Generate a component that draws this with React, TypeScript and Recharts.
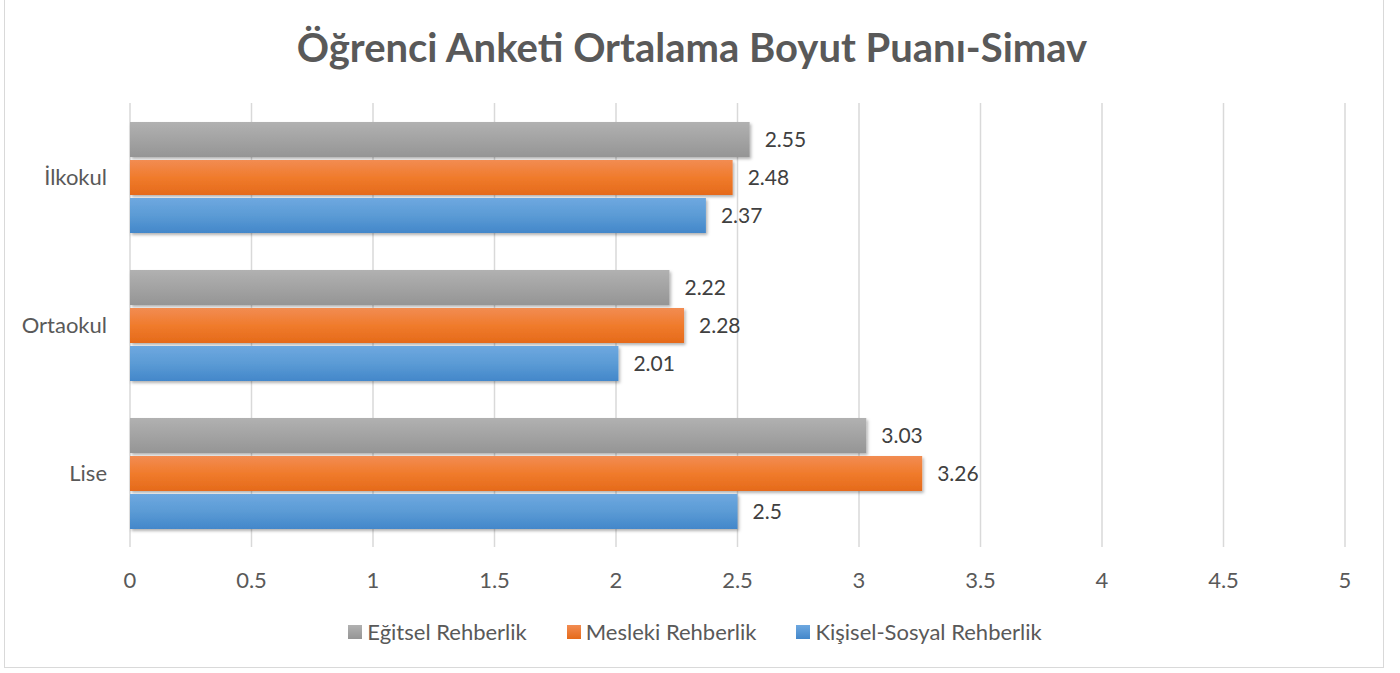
import React from "react";
import {
  Bar,
  BarChart,
  CartesianGrid,
  LabelList,
  XAxis,
  YAxis,
} from "recharts";

const categories = ["İlkokul", "Ortaokul", "Lise"];
const egitsel = [2.55, 2.22, 3.03];
const mesleki = [2.48, 2.28, 3.26];
const kisisel = [2.37, 2.01, 2.5];
const xTicks = [0, 0.5, 1, 1.5, 2, 2.5, 3, 3.5, 4, 4.5, 5];

const data = categories.map((name, i) => ({
  name,
  egitsel: egitsel[i],
  mesleki: mesleki[i],
  kisisel: kisisel[i],
}));

const series = [
  { key: "egitsel", name: "Eğitsel Rehberlik", fill: "url(#gGray)", swatch: "linear-gradient(#b1b1b1, #959595)" },
  { key: "mesleki", name: "Mesleki Rehberlik", fill: "url(#gOrange)", swatch: "linear-gradient(#f28c52, #e56a1a)" },
  { key: "kisisel", name: "Kişisel-Sosyal Rehberlik", fill: "url(#gBlue)", swatch: "linear-gradient(#6ea8e0, #4387ca)" },
];

const FONT = "Lato, 'Open Sans', sans-serif";

export default function App() {
  return (
    <div
      style={{
        position: "absolute",
        left: 0,
        top: 0,
        width: 1400,
        height: 673,
        background: "#fff",
        fontFamily: FONT,
      }}
    >
      <div
        style={{
          position: "absolute",
          left: 4,
          top: -2,
          width: 1380,
          height: 670,
          border: "1.5px solid #d9d9d9",
          boxSizing: "border-box",
        }}
      />
      <div
        style={{
          position: "absolute",
          left: 0,
          top: 22,
          width: 1384,
          textAlign: "center",
          fontSize: 40,
          lineHeight: "50px",
          fontWeight: 700,
          color: "#595959",
        }}
      >
        Öğrenci Anketi Ortalama Boyut Puanı-Simav
      </div>
      <BarChart
        width={1400}
        height={673}
        data={data}
        layout="vertical"
        barSize={35}
        barGap={3}
        margin={{ top: 103, right: 55, left: 0, bottom: 81 }}
        style={{ position: "absolute", left: 0, top: 0 }}
      >
        <defs>
          <linearGradient id="gGray" x1="0" y1="0" x2="0" y2="1">
            <stop offset="0%" stopColor="#b1b1b1" />
            <stop offset="100%" stopColor="#959595" />
          </linearGradient>
          <linearGradient id="gOrange" x1="0" y1="0" x2="0" y2="1">
            <stop offset="0%" stopColor="#f28c52" />
            <stop offset="50%" stopColor="#f07b2c" />
            <stop offset="100%" stopColor="#e56a1a" />
          </linearGradient>
          <linearGradient id="gBlue" x1="0" y1="0" x2="0" y2="1">
            <stop offset="0%" stopColor="#6ea8e0" />
            <stop offset="50%" stopColor="#5b9bd5" />
            <stop offset="100%" stopColor="#4387ca" />
          </linearGradient>
          <filter id="shadow" x="-5%" y="-20%" width="110%" height="150%">
            <feDropShadow dx="1.5" dy="2" stdDeviation="1.5" floodColor="#000" floodOpacity="0.3" />
          </filter>
        </defs>
        <CartesianGrid horizontal={false} stroke="#d9d9d9" strokeWidth={1.5} />
        <XAxis
          type="number"
          domain={[0, 5]}
          ticks={xTicks}
          axisLine={false}
          tickLine={false}
          tickMargin={19}
          height={45}
          tick={{ fill: "#595959", fontSize: 22, fontFamily: FONT }}
        />
        <YAxis
          type="category"
          dataKey="name"
          width={130}
          axisLine={false}
          tickLine={false}
          tickMargin={17}
          tick={{ fill: "#595959", fontSize: 22, fontFamily: FONT }}
        />
        {series.map((s) => (
          <Bar
            key={s.key}
            dataKey={s.key}
            name={s.name}
            fill={s.fill}
            filter="url(#shadow)"
            isAnimationActive={false}
          >
            <LabelList dataKey={s.key} position="right" offset={15} fill="#404040" fontSize={21} fontFamily={FONT} />
          </Bar>
        ))}
      </BarChart>
      <div
        style={{
          position: "absolute",
          left: 0,
          top: 617,
          width: 1390,
          display: "flex",
          justifyContent: "center",
          alignItems: "center",
          fontSize: 22,
          lineHeight: "30px",
          color: "#595959",
        }}
      >
        {series.map((s) => (
          <div key={s.key} style={{ display: "flex", alignItems: "center", margin: "0 20px" }}>
            <span style={{ width: 14, height: 14, background: s.swatch, marginRight: 5, display: "inline-block" }} />
            <span>{s.name}</span>
          </div>
        ))}
      </div>
    </div>
  );
}
